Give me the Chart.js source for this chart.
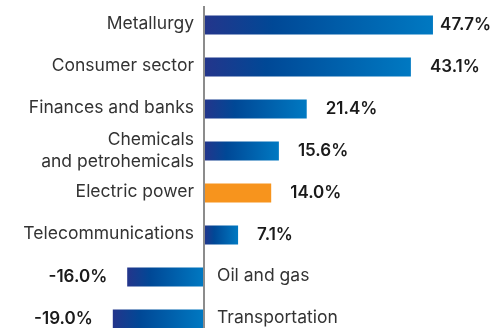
<!DOCTYPE html>
<html>
<head>
<meta charset="utf-8">
<script src="https://cdn.jsdelivr.net/npm/chart.js@4"></script>
<style>
  html, body { margin: 0; padding: 0; background: #fff; overflow: hidden; }
  #wrap { position: relative; width: 493px; height: 345px; }
</style>
</head>
<body>
<div id="wrap"><canvas id="myChart"></canvas></div>
<script>
const categories = [
  'Metallurgy', 'Consumer sector', 'Finances and banks',
  ['Chemicals', 'and petrohemicals'], 'Electric power',
  'Telecommunications', 'Oil and gas', 'Transportation'
];
const values = [47.7, 43.1, 21.4, 15.6, 14.0, 7.1, -16.0, -19.0];
const highlighted = 'Electric power';

const barFill = ({ chart, dataIndex }) => {
  if (categories[dataIndex] === highlighted) return '#f7941d';
  const { chartArea, scales } = chart;
  if (!chartArea) return '#004f9e';
  const zero = scales.x.getPixelForValue(0);
  const end = scales.x.getPixelForValue(values[dataIndex]);
  const left = Math.min(zero, end);
  const right = Math.max(zero, end);
  const g = chart.ctx.createLinearGradient(left, 0, right, 0);
  g.addColorStop(0, '#24358b');
  g.addColorStop(0.3, '#004896');
  g.addColorStop(1, '#0079c2');
  return g;
};

const labelsPlugin = {
  id: 'labels',
  afterDatasetsDraw(chart) {
    const { ctx, scales } = chart;
    const zero = scales.x.getPixelForValue(0);
    const meta = chart.getDatasetMeta(0);

    // axis line
    ctx.save();
    ctx.strokeStyle = '#8c8c8c';
    ctx.lineWidth = 2;
    ctx.beginPath();
    ctx.moveTo(zero, 6);
    ctx.lineTo(zero, chart.height);
    ctx.stroke();

    ctx.textBaseline = 'middle';
    meta.data.forEach((bar, i) => {
      const v = values[i];
      const lines = [].concat(categories[i]);

      // category label
      ctx.font = '17.5px Inter';
      ctx.fillStyle = '#333';
      ctx.textAlign = v >= 0 ? 'right' : 'left';
      const lx = v >= 0 ? zero - 10 : zero + 13;
      lines.forEach((line, j) => {
        const ly = bar.y + (j - (lines.length - 1) / 2) * 22 - (lines.length > 1 ? 0 : 1);
        ctx.fillText(line, lx, ly);
      });

      // value label
      const text = v.toFixed(1) + '%';
      ctx.font = '600 17px Inter';
      ctx.fillStyle = '#1a1a1a';
      const w = ctx.measureText(text).width;
      if (v >= 0) {
        ctx.textAlign = 'left';
        ctx.fillText(text, Math.min(bar.x + 19, chart.width - w - 2), bar.y);
      } else {
        ctx.textAlign = 'right';
        ctx.fillText(text, bar.x - 20, bar.y);
      }
    });
    ctx.restore();
  }
};

const onLoad = () => {
  const ctx = document.getElementById('myChart').getContext('2d');
  new Chart(ctx, {
    type: 'bar',
    data: {
      labels: categories,
      datasets: [{
        data: values,
        backgroundColor: barFill,
        borderWidth: 0,
        barPercentage: 0.45,
        categoryPercentage: 1
      }]
    },
    options: {
      indexAxis: 'y',
      responsive: true,
      maintainAspectRatio: false,
      animation: false,
      layout: { padding: { top: 4, bottom: 5, left: 0, right: 1 } },
      plugins: {
        legend: { display: false },
        tooltip: { enabled: false }
      },
      scales: {
        x: { display: false, min: -42.5, max: 60 },
        y: { display: false }
      }
    },
    plugins: [labelsPlugin]
  });
};

window.onload = onLoad;
</script>
</body>
</html>
